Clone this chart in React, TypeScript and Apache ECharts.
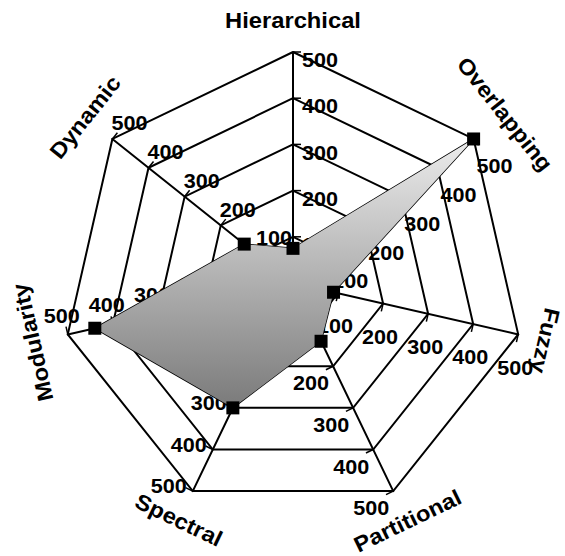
import React, { useEffect, useRef } from "react";
import * as echarts from "echarts";

// Axes in clockwise order starting at the top
const categories = ["Hierarchical", "Overlapping", "Fuzzy", "Partitional", "Spectral", "Modularity", "Dynamic"];
const values = [75, 500, 90, 140, 300, 440, 135];
const tickValues = [100, 200, 300, 400, 500];
const axisMin = 0;
const axisMax = 500;

// layout
const CX = 293;
const CY = 283;
const RADIUS = 231;
const NAME_RADII = [263, 271, 259, 264, 263, 267, 266];
// offset of each axis's tick labels from its tick point (px), clockwise order
const LABEL_OFFSETS: [number, number][] = [
  [27, 8],
  [21, 27],
  [-3, 33],
  [-22, 17],
  [-24, -5],
  [-6, -19],
  [17, -16],
];
const TICK_LEN = 8;

export default function App() {
  const ref = useRef<HTMLDivElement>(null);
  useEffect(() => {
    if (!ref.current) return;
    const chart = echarts.init(ref.current, null, { renderer: "svg" });
    const n = categories.length;
    // ECharts radar runs counter-clockwise, so reorder to place them clockwise
    const order = [0];
    for (let i = n - 1; i >= 1; i--) order.push(i);
    const indicator = order.map((i) => ({ name: categories[i], min: axisMin, max: axisMax }));
    const data = order.map((i) => values[i]);

    const graphics: any[] = [];
    categories.forEach((name, i) => {
      const deg = (i * 360) / n;
      const th = (deg * Math.PI) / 180;
      const dx = Math.sin(th);
      const dy = -Math.cos(th);
      // clockwise perpendicular
      const px = Math.cos(th);
      const py = Math.sin(th);
      let rot = deg;
      if (deg > 120 && deg < 240) rot = deg - 180;
      else if (deg >= 240) rot = deg - 360;
      graphics.push({
        type: "text",
        x: CX + NAME_RADII[i] * dx,
        y: CY + NAME_RADII[i] * dy,
        rotation: (-rot * Math.PI) / 180,
        scaleX: 1.08,
        z: 10,
        style: {
          text: name,
          font: 'bold 22px "Liberation Sans", Arial, sans-serif',
          fill: "#000",
          align: "center",
          verticalAlign: "middle",
        },
      });
      tickValues.forEach((v) => {
        const r = ((v - axisMin) / (axisMax - axisMin)) * RADIUS;
        const tx = CX + r * dx;
        const ty = CY + r * dy;
        graphics.push({
          type: "line",
          z: 1,
          shape: { x1: tx, y1: ty, x2: tx + TICK_LEN * px, y2: ty + TICK_LEN * py },
          style: { stroke: "#000", lineWidth: 1.5 },
        });
        graphics.push({
          type: "text",
          x: tx + LABEL_OFFSETS[i][0],
          y: ty + LABEL_OFFSETS[i][1],
          scaleX: 1.08,
          z: 1,
          style: {
            text: String(v),
            font: 'bold 20px "Liberation Sans", Arial, sans-serif',
            fill: "#000",
            align: "center",
            verticalAlign: "middle",
          },
        });
      });
    });

    chart.setOption({
      animation: false,
      backgroundColor: "#fff",
      radar: {
        center: [CX, CY],
        radius: RADIUS,
        startAngle: 90,
        splitNumber: tickValues.length,
        shape: "polygon",
        indicator,
        axisName: { show: false },
        splitArea: { show: false },
        splitLine: { lineStyle: { color: "#000", width: 2 } },
        axisLine: { lineStyle: { color: "#000", width: 2 } },
        axisTick: { show: false },
        axisLabel: { show: false },
      },
      series: [
        {
          type: "radar",
          z: 5,
          symbol: "rect",
          symbolSize: 13,
          itemStyle: { color: "#000" },
          lineStyle: { color: "#000", width: 1.5 },
          areaStyle: {
            opacity: 1,
            color: new echarts.graphic.LinearGradient(0, 0, 0, 1, [
              { offset: 0, color: "#ececec" },
              { offset: 1, color: "#7a7a7a" },
            ]),
          },
          data: [{ value: data, name: "Methods" }],
        },
      ],
      graphic: graphics,
    });
    return () => chart.dispose();
  }, []);
  return <div ref={ref} style={{ position: "absolute", left: 0, top: 0, width: 565, height: 556 }} />;
}
